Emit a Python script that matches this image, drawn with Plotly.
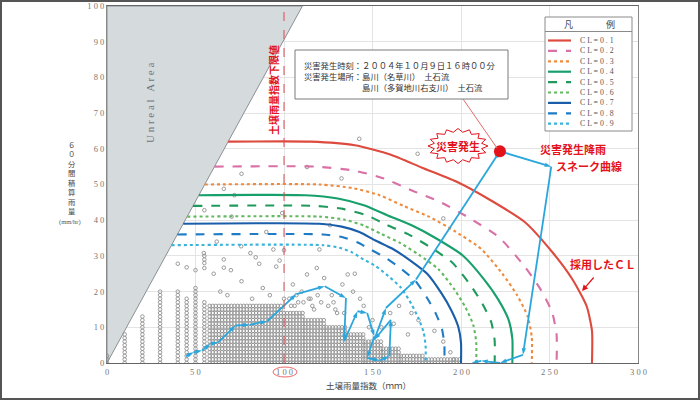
import plotly.graph_objects as go
import math

# ---------------- data ----------------
x_ticks = [0, 50, 100, 150, 200, 250, 300]
x_ticklabels = ["0", "5 0", "1 0 0", "1 5 0", "2 0 0", "2 5 0", "3 0 0"]
y_ticks = [0, 10, 20, 30, 40, 50, 60, 70, 80, 90, 100]
y_ticklabels = ["0", "1 0", "2 0", "3 0", "4 0", "5 0", "6 0", "7 0", "8 0", "9 0", "1 0 0"]

unreal_x = [0, 0, 110.4, 0]
unreal_y = [0, 100, 100, 0]

cl_names = ["CL=0.1", "CL=0.2", "CL=0.3", "CL=0.4", "CL=0.5", "CL=0.6", "CL=0.7", "CL=0.8", "CL=0.9"]
cl1_x = [68.4, 115, 140, 160, 178, 197, 216, 236, 252, 263, 271, 274, 274]
cl1_y = [62, 62, 61, 58.4, 54.7, 50.9, 45.8, 39.5, 30.8, 23.4, 15.9, 9, 0]
cl2_x = [60.7, 118, 139.4, 156.5, 171.9, 188.2, 204.4, 221.5, 235.2, 244.6, 251.4, 254, 254]
cl2_y = [55, 55, 53.9, 51.7, 48.4, 45.1, 40.7, 35.2, 27.5, 20.9, 14.3, 8, 0]
cl3_x = [55.2, 120, 138.8, 154, 167.5, 181.9, 196.2, 211.3, 223.4, 231.7, 237.7, 240, 240]
cl3_y = [50, 50, 49, 47, 44, 41, 37, 32, 25, 19, 13, 7.3, 0]
cl4_x = [51.9, 112, 130.4, 145.1, 158.3, 172.4, 186.3, 201, 212.9, 220.9, 226.8, 229, 229]
cl4_y = [47, 47, 46.1, 44.2, 41.4, 38.5, 34.8, 30.1, 23.5, 17.9, 12.2, 6.8, 0]
cl5_x = [48.6, 118, 133.9, 146.6, 158, 170.1, 182.1, 194.9, 205.1, 212, 217.1, 219, 219]
cl5_y = [44, 44, 43.1, 41.4, 38.7, 36.1, 32.6, 28.2, 22, 16.7, 11.4, 6.4, 0]
cl6_x = [45.3, 120, 133.9, 145.1, 155.1, 165.7, 176.3, 187.4, 196.4, 202.5, 206.9, 208.6, 208.6]
cl6_y = [41, 41, 40.2, 38.5, 36.1, 33.6, 30.3, 26.2, 20.5, 15.6, 10.7, 5.9, 0]
cl7_x = [43.1, 120, 132.6, 142.6, 151.7, 161.3, 170.8, 180.9, 189, 194.5, 198.5, 200, 200]
cl7_y = [39, 39, 38.2, 36.7, 34.3, 32, 28.9, 25, 19.5, 14.8, 10.1, 5.7, 0]
cl8_x = [39.7, 122, 132.8, 141.4, 149.2, 157.4, 165.6, 174.2, 181.1, 185.9, 189.3, 190.6, 190.6]
cl8_y = [36, 36, 35.3, 33.8, 31.7, 29.5, 26.6, 23, 18, 13.7, 9.4, 5.2, 0]
cl9_x = [36.4, 122, 131.1, 138.4, 145, 151.9, 158.8, 166.1, 172, 176, 178.9, 180, 180]
cl9_y = [33, 33, 32.3, 31, 29, 27.1, 24.4, 21.1, 16.5, 12.5, 8.6, 4.8, 0]

snake_x = [44.6, 49, 53.7, 58.5, 62.8, 72.6, 80.6, 90.5, 107, 123, 135, 134, 141.5, 147, 151, 147,
           154, 159.5, 160.4, 151, 157.6, 174.6, 222, 251, 235, 222, 211.4, 206]
snake_y = [1.9, 3, 3.5, 5.4, 5.8, 10.5, 10.7, 11.7, 19.3, 21.5, 18.2, 6.1, 14.5, 14, 7.5, 1.4,
           0.7, 1.9, 12.1, 6.5, 15.4, 23.4, 59.3, 55, 2.3, 0, 0.6, 0]
disaster_x = [222]
disaster_y = [59.3]

# observed rainfall points: full columns (x, top y) and bands (x from, x to, top y)
col_x = [0, 10, 20, 30, 40, 45, 50, 55]
col_top = [2, 8, 13, 20, 20, 18, 21, 17]
band_x0 = [58, 100, 112, 124, 136, 146, 156, 166, 180]
band_x1 = [100, 112, 124, 136, 146, 156, 166, 180, 200]
band_top = [16, 14, 12, 10, 8, 6, 4, 2, 1]
iso_x = [66, 76, 72, 113, 132.5, 142.5, 175.5, 190, 126, 55, 70.4, 99, 90, 62, 54.7, 75.8, 81, 84,
         94, 100, 40, 45, 50, 55, 60.3, 66, 66, 70, 76, 86, 95.6, 97.5, 118.5, 122.7, 113, 120,
         136, 133, 140, 105, 110, 88, 92, 64, 68, 82, 115, 128, 139, 145, 100, 108, 55, 55, 55,
         104, 117, 130, 150, 155, 162, 170, 176, 185, 190, 194, 196, 172, 165, 160, 143, 148,
         103, 107, 111, 116, 119, 125, 129, 134, 106, 114, 121, 127]
iso_y = [48.8, 53, 47, 54.9, 51.7, 62.8, 58.6, 40.5, 38.6, 42.8, 41, 42, 36.7, 34, 30.8, 32.7, 30.8,
         29.6, 31.8, 31.6, 27.8, 26.8, 26, 26.6, 25, 26.7, 29, 26, 22.9, 27.8, 27, 28.7, 26.6, 23.8,
         24.8, 31.8, 24.8, 22, 25, 22, 20, 21, 19, 20, 19, 18, 18, 17, 20, 16, 18, 17, 28, 29, 30,
         16, 15, 14, 12, 10, 11, 8, 12, 9, 6, 3, 1, 14, 16, 14, 18, 10,
         18, 19, 17, 16, 19, 16, 15, 14, 16, 18, 17, 19]

# ---------------- build observed point lists ----------------
obs_x, obs_y = [], []
for cx, ct in zip(col_x, col_top):
    for yy in range(0, ct + 1):
        obs_x.append(cx); obs_y.append(yy)
for bx0, bx1, bt in zip(band_x0, band_x1, band_top):
    xx = bx0
    while xx < bx1:
        for yy in range(0, bt + 1):
            obs_x.append(xx); obs_y.append(yy)
        xx += 1.75
obs_x += iso_x
obs_y += iso_y

# ---------------- layout geometry ----------------
W, H = 700, 400
ML, MR, MT, MB = 107, 62, 6, 37
PW = W - ML - MR
PH = H - MT - MB


def px(p):
    return (p - ML) / PW


def py(p):
    return (H - MB - p) / PH


CJK = "Noto Sans CJK JP"
SERIF = "Liberation Serif"

fig = go.Figure()

# unreal area
fig.add_trace(go.Scatter(x=unreal_x, y=unreal_y, mode="lines", fill="toself",
                         fillcolor="#d5dadd", line=dict(color="#8a9096", width=1),
                         hoverinfo="skip", showlegend=False))

# observed points
fig.add_trace(go.Scatter(x=obs_x, y=obs_y, mode="markers",
                         marker=dict(symbol="circle-open", size=3.6, color="#909090",
                                     line=dict(width=0.9, color="#909090")),
                         showlegend=False, hoverinfo="skip"))

cl_x = [cl1_x, cl2_x, cl3_x, cl4_x, cl5_x, cl6_x, cl7_x, cl8_x, cl9_x]
cl_y = [cl1_y, cl2_y, cl3_y, cl4_y, cl5_y, cl6_y, cl7_y, cl8_y, cl9_y]
cl_colors = ["#dd4a3e", "#d970a6", "#f08a3c", "#17a06c", "#1f9a5c", "#62b95e", "#1a5eaa", "#1f7cc4", "#38b3dc"]
cl_dash = ["solid", "dash", "dot", "solid", "dash", "dot", "solid", "dash", "dot"]
for nm, xs, ys, c, d in zip(cl_names, cl_x, cl_y, cl_colors, cl_dash):
    fig.add_trace(go.Scatter(x=xs, y=ys, mode="lines", name=nm,
                             line=dict(color=c, width=2.1, dash=d, shape="spline", smoothing=0.6),
                             showlegend=False))

# snake curve
fig.add_trace(go.Scatter(x=snake_x, y=snake_y, mode="lines+markers",
                         line=dict(color="#2aa6dc", width=1.8),
                         marker=dict(symbol="arrow", size=7, angleref="previous", color="#2aa6dc"),
                         showlegend=False))
# disaster point
fig.add_trace(go.Scatter(x=disaster_x, y=disaster_y, mode="markers",
                         marker=dict(size=12, color="#e3121b"), showlegend=False))

shapes = []
# lower-limit line
shapes.append(dict(type="line", xref="x", yref="y", x0=100, x1=100, y0=0, y1=100,
                   line=dict(color="#e0474c", width=1, dash="dash")))
# info box
shapes.append(dict(type="rect", xref="paper", yref="paper", x0=px(295), x1=px(508), y0=py(99), y1=py(50),
                   line=dict(color="#7a7a7a", width=1), fillcolor="white"))
# connector box -> point
shapes.append(dict(type="line", xref="paper", yref="paper", x0=px(463), y0=py(99), x1=px(497), y1=py(148),
                   line=dict(color="#e46a6a", width=1)))
# starburst
cx0, cy0, rx, ry, n = 458, 146, 30, 17.5, 16
pts = []
for i in range(2 * n):
    a = math.pi * i / n
    f = 1.0 if i % 2 == 0 else 0.8
    pts.append((px(cx0 + rx * f * math.cos(a)), py(cy0 + ry * f * math.sin(a))))
path = "M " + " L ".join(f"{a:.5f},{b:.5f}" for a, b in pts) + " Z"
shapes.append(dict(type="path", xref="paper", yref="paper", path=path,
                   line=dict(color="#e3121b", width=1), fillcolor="white"))
# ellipse around 100
shapes.append(dict(type="circle", xref="paper", yref="paper", x0=px(273), x1=px(297), y0=py(377), y1=py(367),
                   line=dict(color="#e66", width=1)))
# legend box
shapes.append(dict(type="rect", xref="paper", yref="paper", x0=px(545), x1=px(632), y0=py(131), y1=py(17),
                   line=dict(color="#8a8a8a", width=1), fillcolor="white"))
shapes.append(dict(type="line", xref="paper", yref="paper", x0=px(545), x1=px(632), y0=py(31.5), y1=py(31.5),
                   line=dict(color="#8a8a8a", width=1)))
# outer frame
shapes.append(dict(type="rect", xref="paper", yref="paper", x0=px(1), x1=px(699), y0=py(399), y1=py(1),
                   line=dict(color="#555555", width=2)))

annotations = []


def note(xp, yp, text, font, xa="center", ya="middle", **kw):
    d = dict(xref="paper", yref="paper", x=px(xp), y=py(yp), text=text, showarrow=False,
             xanchor=xa, yanchor=ya, font=font)
    d.update(kw)
    annotations.append(d)


for i, (nm, c, d) in enumerate(zip(cl_names, cl_colors, cl_dash)):
    yy = 40.5 + 10.4 * i
    shapes.append(dict(type="line", xref="paper", yref="paper", x0=px(548), x1=px(571), y0=py(yy), y1=py(yy),
                       line=dict(color=c, width=2.2, dash=d)))
    note(578, yy, " ".join(nm), dict(family=SERIF, size=7.8, color="#555"), xa="left")
note(568, 24, "凡", dict(family=CJK, size=9, color="#444"))
note(610, 24, "例", dict(family=CJK, size=9, color="#444"))

# x tick labels
for xv, xt in zip(x_ticks, x_ticklabels):
    annotations.append(dict(xref="x", yref="paper", x=xv, y=py(372), text=xt, showarrow=False,
                            xanchor="center", yanchor="middle",
                            font=dict(family=SERIF, size=8.5, color="#777")))

box_text = ("災害発生時刻：２００４年１０月９日１６時００分<br>"
            "災害発生場所：島川（名草川）　土石流<br>"
            "　　　　　　　島川（多賀地川右支川）　土石流")
note(302, 57, box_text, dict(family=CJK, size=8.3, color="#333"), xa="left", ya="top", align="left")

red_bold = dict(family=CJK, size=11, color="#e3121b")
note(458, 146, "<b>災害発生</b>", red_bold)
note(573, 149, "<b>災害発生降雨</b>", red_bold)
note(589, 166, "<b>スネーク曲線</b>", red_bold)
note(603, 264, "<b>採用したＣＬ</b>", red_bold)
annotations.append(dict(xref="paper", yref="paper", x=px(582), y=py(291), ax=13, ay=-15, text="",
                        showarrow=True, arrowhead=2, arrowsize=1, arrowwidth=1.2, arrowcolor="#e3121b"))
note(273, 90, "<b>土壌雨量指数下限値</b>", dict(family=CJK, size=10, color="#e3121b"), textangle=-90)
note(150, 103, "U n r e a l   A r e a", dict(family=SERIF, size=11, color="#6f767c"), textangle=-90)
note(368, 385, "土壌雨量指数（ｍｍ）", dict(family=CJK, size=8.5, color="#444"))
note(72, 178, "<br>".join(list("６０分間積算雨量")), dict(family=CJK, size=7.3, color="#444"))
note(70, 222, "(mm/hr)", dict(family=SERIF, size=6.5, color="#555"))

fig.update_layout(
    width=W, height=H, margin=dict(l=ML, r=MR, t=MT, b=MB, autoexpand=False),
    paper_bgcolor="white", plot_bgcolor="white",
    shapes=shapes, annotations=annotations, showlegend=False,
    xaxis=dict(range=[0, 300], tickvals=x_ticks, showticklabels=False, showgrid=True,
               gridcolor="#e4e4e4", gridwidth=1, zeroline=False, showline=True, linecolor="#666",
               linewidth=1.2, mirror=True, ticks="", automargin=False),
    yaxis=dict(range=[0, 100], tickvals=y_ticks, ticktext=y_ticklabels, showgrid=True,
               gridcolor="#e4e4e4", gridwidth=1, zeroline=False, showline=True, linecolor="#888",
               linewidth=1, mirror=True, ticks="", automargin=False,
               tickfont=dict(family=SERIF, size=8.5, color="#777")),
)

fig.write_html("out.html", config={"displayModeBar": False},
               post_script="document.body.style.margin='0';document.body.style.overflow='hidden';")
